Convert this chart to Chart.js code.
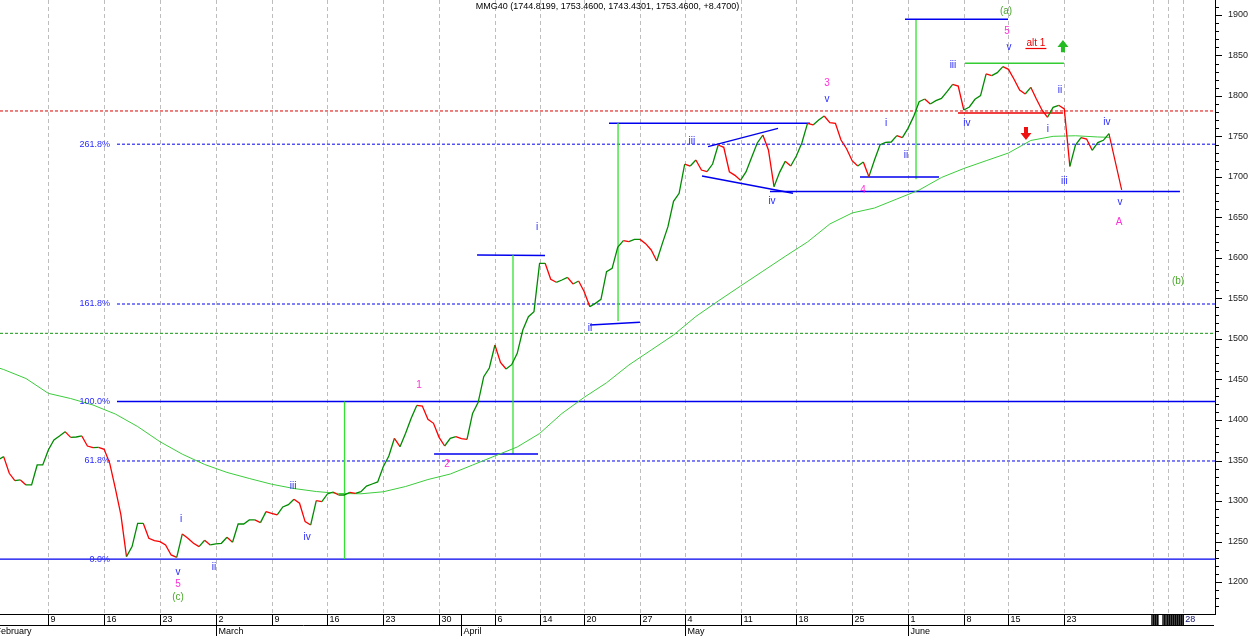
<!DOCTYPE html>
<html><head><meta charset="utf-8">
<script src="https://cdn.jsdelivr.net/npm/chart.js@4.4.1/dist/chart.umd.min.js"></script>
<style>html,body{margin:0;padding:0;background:#fff;overflow:hidden}#wrap{width:1250px;height:636px}</style>
</head><body><div id="wrap"><canvas id="c" width="1250" height="636"></canvas></div>
<script>
// ---------- DATA ----------
const chartTitle = 'MMG40 (1744.8199, 1753.4600, 1743.4301, 1753.4600, +8.4700)';
// price series: half-day bars, trading-day index starts at -0.5
const priceStart = -0.5, priceStep = 0.5;
const prices = [
1350.6,1354.8,1334.2,1325.1,1326,1319.8,1319.8,1344.5,1344.5,1363,
1375.3,1380.3,1385.6,1378.6,1379,1380.3,1367.9,1365.9,1366.3,1363.8,
1346.5,1315.7,1282.8,1231.3,1243.7,1272.5,1272.5,1253.9,1251.1,1249.8,
1245.7,1233.4,1230.5,1259.3,1253.9,1247.8,1243.7,1251.5,1245.7,1247,
1247.8,1255.2,1249,1271.6,1271.6,1276.6,1276.6,1273.3,1286.9,1284.8,
1282.8,1292.6,1295.5,1302.1,1297.2,1274.5,1270.4,1300.4,1299.2,1308.7,
1311.1,1307.4,1307.4,1310.7,1309.5,1311.5,1318.5,1321,1323.5,1342.4,
1355.6,1377.4,1367.1,1383.6,1402.1,1418,1417.3,1400.8,1395.9,1378.6,
1367.9,1377.4,1379.4,1377,1376.1,1408.2,1421.8,1453.5,1464.2,1492.6,
1471.2,1463,1468.3,1482.3,1511.1,1527.6,1533.7,1593.4,1593.4,1573.7,
1570,1572.8,1576.1,1567.9,1571.6,1558.4,1539.9,1544,1549,1583.1,
1587.2,1613.2,1621.4,1620.2,1623,1623,1617.7,1609.9,1596.3,1618.1,
1638.7,1670,1679.8,1716,1713.5,1721,1708.6,1706.5,1716,1739.5,
1736.6,1706.5,1702,1695.9,1706.5,1724.3,1742,1751.8,1733.3,1688,
1705.7,1719.3,1713.5,1725.9,1742.3,1766.2,1764.2,1770.3,1775.3,1767,
1766.2,1745.6,1734.9,1720.1,1713.5,1718.5,1700.4,1721,1739.9,1742.8,
1743.2,1751,1748.5,1760,1774.5,1793,1796.3,1790.1,1794.2,1797,
1805.3,1814.4,1812.3,1782.7,1786.4,1795.9,1800.4,1827.2,1825.1,1828.8,
1836.2,1832.9,1820.6,1807.4,1802.5,1810.7,1796.3,1782.7,1773.7,1786,
1788.5,1784,1713,1739.5,1748.5,1746.9,1733,1742.4,1745.3,1753.5
];
// moving average
const maDays = [-0.5,0,2,4,6,8,10,12,14,16,18,20,22,24,26,28,30,32,34,36,38,40,42,44,46,48,50,52,54,56,58,60,62,64,66,68,70,72,74,76,78,80,82,84,86,88,90,92,94,96,98,99];
const maValues = [1464.5,1462.3,1451.2,1432.9,1426.5,1418.5,1407.4,1391.9,1373.2,1357.8,1345.1,1335.3,1327.8,1320.7,1315.4,1311.7,1309.3,1308.9,1311.4,1317.9,1326.5,1333.3,1344.4,1355.6,1366.7,1383.3,1408,1428,1446,1467.9,1486.4,1504.9,1527.8,1546.9,1565.4,1583.7,1602,1619.8,1642,1655.6,1661.7,1672.8,1683.9,1699.4,1710.5,1720.1,1729.6,1745.1,1750.2,1750.9,1749.4,1749];
// projection after last bar
const projEnd = [100.14, 1684];

// axes
const xMin = -0.33, xMax = 108.5, yMin = 1160.5, yMax = 1918.5;
const dayTicks  = [4,9,14,19,24,29,34,39,44,48,52,57,61,66,71,76,81,86,90,95];
const dayLabels = ['9','16','23','2','9','16','23','30','6','14','20','27','4','11','18','25','1','8','15','23'];
const futureGrid = [102.92,104.26,105.66];
const futureTicks = [102.85,102.97,103.03,103.15,103.21,103.33,103.39,103.84,103.96,104.1,104.22,104.28,104.4,104.46,104.58,104.64,104.76,104.82,104.94,105.0,105.12,105.18,105.3,105.36,105.48,105.54,105.66];
const futureLabel = ['28'];
const monthStarts = [-1,19,41,61,81];
const monthLabels = ['February','March','April','May','June'];

// fibonacci levels
const fibValues = [1740.5,1543.2,1422.8,1349.4,1228.3];
const fibLabels = ['261.8%','161.8%','100.0%','61.8%','0.0%'];
const fibLabelAt = 9.53;

// horizontal levels: value, start index (null = left edge), kind
const levelValues = [1781.5,1740.5,1543.2,1507,1422.8,1349.4,1228.3];
const levelFrom   = [null,10.15,10.15,null,10.15,10.15,null];
const levelKinds  = ['redDash','blueDash','blueDash','greenDash','blue','blueDash','blue'];

// drawn segments (data coordinates)
const segments = [
 {a:[30.53,1422.8],b:[30.53,1228.3],k:'gv'},
 {a:[38.55,1358],b:[47.86,1358],k:'b'},
 {a:[45.62,1358],b:[45.62,1603.7],k:'gv'},
 {a:[42.4,1603.7],b:[48.49,1603],k:'b'},
 {a:[52.52,1517.3],b:[56.99,1520.6],k:'b'},
 {a:[55.03,1766.5],b:[55.03,1522.2],k:'gv'},
 {a:[54.22,1766.3],b:[72.22,1766.3],k:'b'},
 {a:[63.09,1737.4],b:[69.36,1760],k:'b'},
 {a:[62.55,1701.2],b:[70.7,1679.9],k:'b'},
 {a:[68.64,1682],b:[105.36,1682],k:'b'},
 {a:[76.7,1700],b:[83.78,1700],k:'b'},
 {a:[80.73,1894.7],b:[89.96,1894.7],k:'b'},
 {a:[81.72,1894.7],b:[81.72,1697.2],k:'gv'},
 {a:[86.1,1840.4],b:[94.97,1840.4],k:'g'},
 {a:[85.48,1779],b:[94.88,1779],k:'r'}
];

// wave labels: text, index, value, kind
const waveText = ['i','v','5','(c)','ii','iii','iv','1','2','i','ii','iii','iv','3','v','4','i','ii','iii','iv','(a)','5','v','alt 1','ii','i','iii','iv','v','A','(b)'];
const waveX = [15.89,15.62,15.62,15.62,18.84,25.92,27.17,37.2,39.71,47.77,52.52,61.65,68.82,73.75,73.75,76.97,79.03,80.82,85.03,86.28,89.78,89.87,90.04,92.46,94.61,93.54,95,98.82,100,99.9,105.19];
const waveY = [1277.8,1212.3,1197.5,1181.5,1218.5,1318.5,1255.6,1443.2,1345.7,1638.3,1513.6,1744.4,1670.4,1816,1796.3,1684,1766.7,1727.2,1838.3,1766.7,1904.3,1880.2,1860.5,1865.4,1807.4,1759.3,1695.1,1767.9,1669.1,1644.4,1571.6];
const waveKind = ['w','w','n','d','w','w','w','n','n','w','w','w','w','n','w','n','w','w','w','w','d','n','w','alt','w','w','w','w','w','n','d'];

// arrows: index, tip value, base value, kind
const arrows = [
 {x:94.88, tip:1869, base:1854, k:'up'},
 {x:91.57, tip:1745.7, base:1761.7, k:'down'}
];

// ---------- STYLES ----------
const FONT = '"Liberation Sans", Arial, sans-serif';
const C = {up:'#008c00', down:'#ff0000', ma:'#3ccc3c', blue:'#0000ff', red:'#ee0000',
  green:'#119911', gv:'#33e033', gline:'#33cc33', grid:'#bdbdbd',
  w:'#2a2aff', n:'#ff30d8', d:'#4aa82a', alt:'#ee0000'};
const levelStyle = {
  redDash:{c:'#dd0000',d:[3,2],w:1}, blueDash:{c:'#0000ee',d:[3,2],w:1},
  greenDash:{c:'#119911',d:[3,2],w:1}, blue:{c:'#0000ee',d:[],w:1.4}
};
const segStyle = {gv:{c:C.gv,w:1.3}, b:{c:'#0000ee',w:1.4}, g:{c:C.gline,w:1.3}, r:{c:C.red,w:1.4}};

// ---------- DATASETS ----------
const base = {type:'line', pointRadius:0, pointHoverRadius:0, fill:false, tension:0};
const datasets = [];
datasets.push(Object.assign({}, base, {
  data: prices.map((v,k)=>({x:priceStart+k*priceStep, y:v})),
  borderWidth:1.3, borderColor:C.up,
  segment:{borderColor: c => c.p1.parsed.y >= c.p0.parsed.y ? C.up : C.down},
  order:0
}));
const lastX = priceStart + (prices.length-1)*priceStep;
datasets.push(Object.assign({}, base, {
  data:[{x:lastX,y:prices[prices.length-1]},{x:projEnd[0],y:projEnd[1]}],
  borderColor:C.red, borderWidth:1.2, order:1
}));
datasets.push(Object.assign({}, base, {
  data: maDays.map((d,k)=>({x:d,y:maValues[k]})), borderColor:C.ma, borderWidth:1, order:3
}));
levelValues.forEach((v,i)=>{
  const s = levelStyle[levelKinds[i]];
  datasets.push(Object.assign({}, base, {
    data:[{x: levelFrom[i]===null ? xMin : levelFrom[i], y:v},{x:xMax,y:v}],
    borderColor:s.c, borderDash:s.d, borderWidth:s.w, order:5
  }));
});
segments.forEach(sg=>{
  const s = segStyle[sg.k];
  datasets.push(Object.assign({}, base, {
    data:[{x:sg.a[0],y:sg.a[1]},{x:sg.b[0],y:sg.b[1]}],
    borderColor:s.c, borderWidth:s.w, order:4
  }));
});

// ---------- PLUGIN ----------
const extras = {
  id:'extras',
  beforeDatasetsDraw(chart){
    const {ctx, chartArea:a, scales:{x}} = chart;
    ctx.save();
    ctx.strokeStyle=C.grid; ctx.lineWidth=1; ctx.setLineDash([4,3]);
    dayTicks.concat(futureGrid).forEach(v=>{
      const px = Math.round(x.getPixelForValue(v))+0.5;
      ctx.beginPath(); ctx.moveTo(px,a.top); ctx.lineTo(px,a.bottom); ctx.stroke();
    });
    ctx.restore();
  },
  afterDatasetsDraw(chart){
    const {ctx, chartArea:a, scales:{x,y}} = chart;
    ctx.save();
    // fib labels
    ctx.font = '9px '+FONT; ctx.textAlign='right'; ctx.textBaseline='middle'; ctx.fillStyle=C.w;
    fibValues.forEach((v,i)=> ctx.fillText(fibLabels[i], x.getPixelForValue(fibLabelAt), y.getPixelForValue(v)));
    // wave labels
    ctx.textAlign='center'; ctx.font='10px '+FONT;
    waveText.forEach((t,i)=>{
      const px = x.getPixelForValue(waveX[i]), py = y.getPixelForValue(waveY[i]);
      ctx.fillStyle = C[waveKind[i]];
      ctx.fillText(t, px, py);
      if (waveKind[i]==='alt'){
        const w = ctx.measureText(t).width;
        ctx.strokeStyle=C.alt; ctx.lineWidth=1.2;
        ctx.beginPath(); ctx.moveTo(px-w/2-1, py+5.5); ctx.lineTo(px+w/2+1, py+5.5); ctx.stroke();
      }
    });
    // arrows
    arrows.forEach(ar=>{
      const px = x.getPixelForValue(ar.x), yt = y.getPixelForValue(ar.tip), yb = y.getPixelForValue(ar.base);
      const dir = yb > yt ? 1 : -1;
      const head = 7*dir;
      ctx.fillStyle = ar.k==='up' ? '#22bb22' : '#ee1111';
      ctx.beginPath();
      ctx.moveTo(px, yt);
      ctx.lineTo(px+5.5, yt+head);
      ctx.lineTo(px+2, yt+head);
      ctx.lineTo(px+2, yb);
      ctx.lineTo(px-2, yb);
      ctx.lineTo(px-2, yt+head);
      ctx.lineTo(px-5.5, yt+head);
      ctx.closePath(); ctx.fill();
    });
    // title
    ctx.font='9px '+FONT; ctx.fillStyle='#000'; ctx.textAlign='center'; ctx.textBaseline='middle';
    ctx.fillText(chartTitle, (a.left+a.right)/2, a.top+7);
    ctx.restore();
  },
  afterDraw(chart){
    const {ctx, chartArea:a, scales:{x,y}} = chart;
    const H = chart.height;
    ctx.save();
    ctx.strokeStyle='#000'; ctx.lineWidth=1; ctx.setLineDash([]);
    const top = a.bottom, mid = a.bottom+11;
    ctx.beginPath(); ctx.moveTo(0, top+0.5); ctx.lineTo(a.right+1, top+0.5); ctx.stroke();
    ctx.beginPath(); ctx.moveTo(0, mid+0.5); ctx.lineTo(a.right-1, mid+0.5); ctx.stroke();
    ctx.font='9px '+FONT; ctx.fillStyle='#000'; ctx.textAlign='left'; ctx.textBaseline='middle';
    dayTicks.forEach((v,i)=>{
      const px = Math.round(x.getPixelForValue(v))+0.5;
      ctx.beginPath(); ctx.moveTo(px, top); ctx.lineTo(px, mid); ctx.stroke();
      ctx.fillText(dayLabels[i], px+2, top+6);
    });
    ctx.lineWidth=1.3;
    futureTicks.forEach(v=>{
      const px = x.getPixelForValue(v);
      ctx.beginPath(); ctx.moveTo(px, top); ctx.lineTo(px, mid); ctx.stroke();
    });
    ctx.lineWidth=1;
    ctx.fillStyle='#10106a';
    ctx.fillText(futureLabel[0], x.getPixelForValue(futureGrid[2])+2, top+6);
    ctx.fillStyle='#000';
    monthStarts.forEach((v,i)=>{
      const px = Math.round(x.getPixelForValue(v))+0.5;
      ctx.beginPath(); ctx.moveTo(px, top); ctx.lineTo(px, H); ctx.stroke();
      ctx.fillText(monthLabels[i], px+2, mid+6.5);
    });
    for (let v=1170; v<=1910; v+=10){
      const py = Math.round(y.getPixelForValue(v))+0.5;
      const len = (v%50===0) ? 7 : 4;
      ctx.beginPath(); ctx.moveTo(a.right, py); ctx.lineTo(a.right+len, py); ctx.stroke();
    }
    ctx.restore();
  }
};

new Chart(document.getElementById('c'), {
  type:'line',
  data:{datasets},
  options:{
    responsive:false, animation:false, devicePixelRatio:1,
    layout:{padding:{left:0,top:0,right:0,bottom:22}},
    plugins:{legend:{display:false}, tooltip:{enabled:false}, title:{display:false}},
    events:[],
    scales:{
      x:{type:'linear', display:false, min:xMin, max:xMax},
      y:{type:'linear', position:'right', min:yMin, max:yMax,
        afterFit(s){ s.width=35; s.paddingTop=0; s.paddingBottom=0; },
        grid:{display:false, drawTicks:false},
        border:{display:true, color:'#000', width:1},
        ticks:{stepSize:50, includeBounds:false, padding:13, color:'#222',
          font:{size:9, family:FONT}, callback:v=>String(v)}
      }
    }
  },
  plugins:[extras]
});
</script></body></html>
